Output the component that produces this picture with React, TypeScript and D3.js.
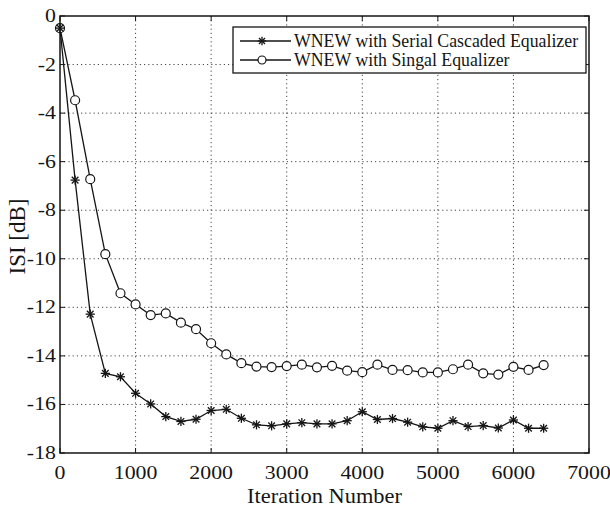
import React from "react";
import * as d3 from "d3";

const iterations = [0,200,400,600,800,1000,1200,1400,1600,1800,2000,2200,2400,2600,2800,3000,3200,3400,3600,3800,4000,4200,4400,4600,4800,5000,5200,5400,5600,5800,6000,6200,6400];
const serialCascaded = [-0.5,-6.76,-12.28,-14.72,-14.86,-15.54,-15.98,-16.5,-16.7,-16.61,-16.25,-16.2,-16.57,-16.84,-16.88,-16.8,-16.75,-16.8,-16.8,-16.67,-16.3,-16.62,-16.58,-16.73,-16.92,-16.98,-16.67,-16.91,-16.87,-16.97,-16.64,-16.98,-16.98];
const singalEq = [-0.5,-3.47,-6.72,-9.81,-11.42,-11.88,-12.32,-12.25,-12.63,-12.9,-13.48,-13.94,-14.3,-14.44,-14.46,-14.42,-14.36,-14.47,-14.41,-14.61,-14.67,-14.36,-14.58,-14.59,-14.68,-14.68,-14.55,-14.36,-14.72,-14.77,-14.45,-14.58,-14.38];
const xTicks = [0,1000,2000,3000,4000,5000,6000,7000];
const yTicks = [0,-2,-4,-6,-8,-10,-12,-14,-16,-18];
const legendLabels = ["WNEW with Serial Cascaded Equalizer", "WNEW with Singal Equalizer"];
const xTitle = "Iteration Number";
const yTitle = "ISI [dB]";

const L = 60, R = 589, T = 16, B = 453;
const FONT = "'Liberation Serif', 'Times New Roman', serif";
const INK = "#151515";

function Star({ x, y, r = 4.6 }: { x: number; y: number; r?: number }) {
  const d = r * 0.72;
  return (
    <g stroke={INK} strokeWidth={1.3}>
      <line x1={x - r} y1={y} x2={x + r} y2={y} />
      <line x1={x} y1={y - r} x2={x} y2={y + r} />
      <line x1={x - d} y1={y - d} x2={x + d} y2={y + d} />
      <line x1={x - d} y1={y + d} x2={x + d} y2={y - d} />
    </g>
  );
}

function Circ({ x, y, r = 4.5 }: { x: number; y: number; r?: number }) {
  return <circle cx={x} cy={y} r={r} fill="white" stroke={INK} strokeWidth={1.2} />;
}

export default function App() {
  const x = d3.scaleLinear().domain([0, 7000]).range([L, R]);
  const y = d3.scaleLinear().domain([-18, 0]).range([B, T]);
  const line = d3.line<number>().x((_, i) => x(iterations[i])).y((v) => y(v));
  const tick = 5;

  return (
    <svg width={610} height={510} style={{ position: "absolute", left: 0, top: 0, background: "white" }}>
      <rect x={0} y={0} width={610} height={510} fill="white" />
      {xTicks.filter((t) => t > 0 && t < 7000).map((t) => (
        <line key={"gx" + t} x1={x(t)} x2={x(t)} y1={T} y2={B} stroke="#444" strokeWidth={1} strokeDasharray="1.2,3" />
      ))}
      {yTicks.filter((t) => t < 0 && t > -18).map((t) => (
        <line key={"gy" + t} x1={L} x2={R} y1={y(t)} y2={y(t)} stroke="#444" strokeWidth={1} strokeDasharray="1.2,3" />
      ))}
      {xTicks.map((t) => (
        <g key={"tx" + t} stroke={INK} strokeWidth={1}>
          <line x1={x(t)} x2={x(t)} y1={B} y2={B - tick} />
          <line x1={x(t)} x2={x(t)} y1={T} y2={T + tick} />
        </g>
      ))}
      {yTicks.map((t) => (
        <g key={"ty" + t} stroke={INK} strokeWidth={1}>
          <line x1={L} x2={L + tick} y1={y(t)} y2={y(t)} />
          <line x1={R} x2={R - tick} y1={y(t)} y2={y(t)} />
        </g>
      ))}
      <path d={line(singalEq) || ""} fill="none" stroke={INK} strokeWidth={1.3} />
      <path d={line(serialCascaded) || ""} fill="none" stroke={INK} strokeWidth={1.3} />
      {singalEq.map((v, i) => <Circ key={"c" + i} x={x(iterations[i])} y={y(v)} />)}
      {serialCascaded.map((v, i) => <Star key={"s" + i} x={x(iterations[i])} y={y(v)} />)}
      <rect x={L} y={T} width={R - L} height={B - T} fill="none" stroke={INK} strokeWidth={1.5} />
      {xTicks.map((t) => (
        <text key={"lx" + t} transform={`translate(${x(t)},${B + 26}) scale(1.15,1)`} textAnchor="middle"
          fontFamily={FONT} fontSize={19} fill={INK}>{t}</text>
      ))}
      {yTicks.map((t) => (
        <text key={"ly" + t} transform={`translate(${L - 4},${y(t) + 6}) scale(1.15,1)`} textAnchor="end"
          fontFamily={FONT} fontSize={19} fill={INK}>{t}</text>
      ))}
      <text transform={`translate(${(L + R) / 2},${B + 50}) scale(1.12,1)`} textAnchor="middle" fontFamily={FONT} fontSize={20} fill={INK}>{xTitle}</text>
      <text transform={`translate(25,${(T + B) / 2 + 2}) rotate(-90)`} textAnchor="middle" fontFamily={FONT} fontSize={23} fill={INK}>{yTitle}</text>
      <rect x={233} y={27} width={353} height={46} fill="white" stroke={INK} strokeWidth={1.3} />
      {legendLabels.map((lab, i) => {
        const ly = 41 + i * 19;
        return (
          <g key={"lg" + i}>
            <line x1={240} x2={291} y1={ly} y2={ly} stroke={INK} strokeWidth={1.3} />
            {i === 0 ? <Star x={262} y={ly} r={4.2} /> : <Circ x={262} y={ly} r={4} />}
            <text x={294} y={ly + 6} fontFamily={FONT} fontSize={17.8} fill={INK}>{lab}</text>
          </g>
        );
      })}
    </svg>
  );
}
